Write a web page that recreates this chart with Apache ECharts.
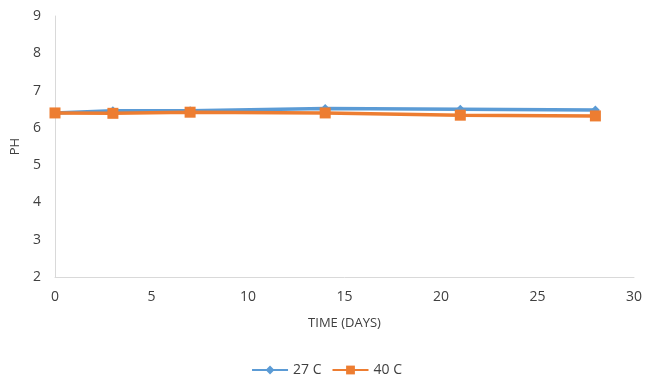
<!DOCTYPE html>
<html><head><meta charset="utf-8">
<script src="https://cdn.jsdelivr.net/npm/echarts@6/dist/echarts.min.js"></script>
<style>html,body{margin:0;padding:0;background:#fff}#c{width:653px;height:392px}</style>
</head><body><div id="c"></div>
<script>
const days = [0, 3, 7, 14, 21, 28];
const ph27 = [6.40, 6.46, 6.46, 6.52, 6.50, 6.48];
const ph40 = [6.40, 6.39, 6.42, 6.40, 6.34, 6.32];
const seriesNames = ['27 C', '40 C'];
const chart = echarts.init(document.getElementById('c'));
const font = 'Open Sans';
chart.setOption({
  animation: false,
  grid: {left: 55, right: 19, top: 16, bottom: 115, outerBoundsMode: 'none', containLabel: false},
  legend: {
    bottom: 10, left: 'center', itemWidth: 36, itemHeight: 11, itemGap: 10,
    textStyle: {fontFamily: font, fontSize: 14, color: '#404040'},
    data: seriesNames
  },
  xAxis: {
    type: 'value', min: 0, max: 30, interval: 5,
    name: 'TIME (DAYS)', nameLocation: 'middle', nameGap: 40,
    nameTextStyle: {fontFamily: font, fontSize: 13, color: '#404040'},
    axisLine: {lineStyle: {color: '#d9d9d9'}},
    axisTick: {show: false},
    axisLabel: {fontFamily: font, fontSize: 14, color: '#404040', margin: 13},
    splitLine: {show: false}
  },
  yAxis: {
    type: 'value', min: 2, max: 9, interval: 1,
    name: 'PH', nameLocation: 'middle', nameGap: 25,
    nameTextStyle: {fontFamily: font, fontSize: 13, color: '#404040'},
    axisLine: {show: true, lineStyle: {color: '#d9d9d9'}},
    axisTick: {show: false},
    axisLabel: {fontFamily: font, fontSize: 14, color: '#404040', margin: 14},
    splitLine: {show: false}
  },
  series: [
    {name: seriesNames[0], type: 'line', data: days.map((d, i) => [d, ph27[i]]),
     symbol: 'diamond', symbolSize: 9, lineStyle: {width: 3.5, color: '#5B9BD5'},
     itemStyle: {color: '#5B9BD5'}},
    {name: seriesNames[1], type: 'line', data: days.map((d, i) => [d, ph40[i]]),
     symbol: 'rect', symbolSize: 11, lineStyle: {width: 3.5, color: '#ED7D31'},
     itemStyle: {color: '#ED7D31'}}
  ]
});
</script></body></html>
